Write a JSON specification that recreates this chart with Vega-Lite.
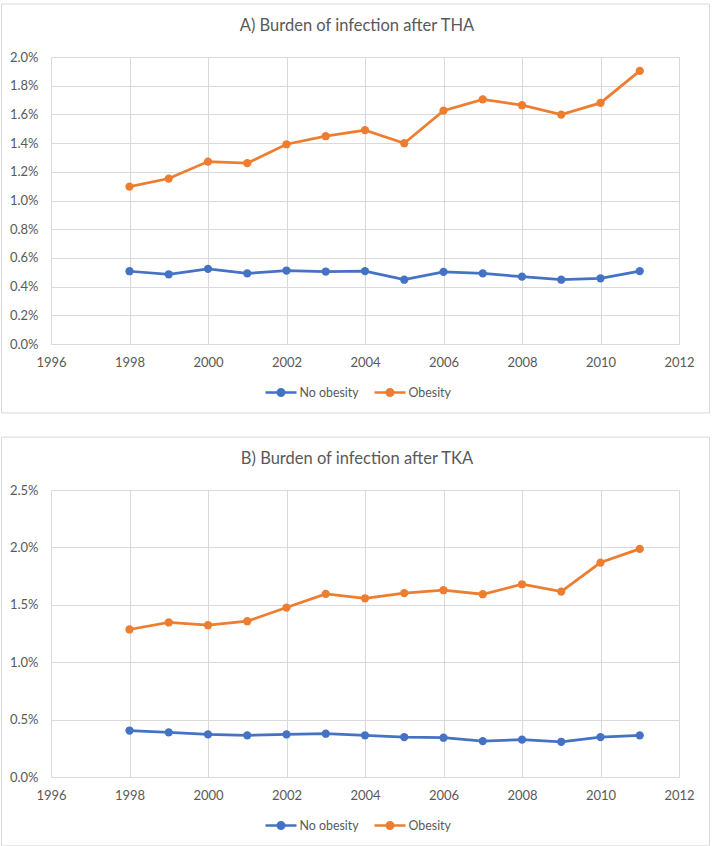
{
  "$schema": "https://vega.github.io/schema/vega-lite/v6.json",
  "padding": {"left": 1, "top": 3, "right": 0, "bottom": 0},
  "background": "white",
  "datasets": {
    "tha": [
      {"year": 1998, "group": "No obesity", "value": 0.00507},
      {"year": 1999, "group": "No obesity", "value": 0.00486},
      {"year": 2000, "group": "No obesity", "value": 0.00524},
      {"year": 2001, "group": "No obesity", "value": 0.00492},
      {"year": 2002, "group": "No obesity", "value": 0.00512},
      {"year": 2003, "group": "No obesity", "value": 0.00505},
      {"year": 2004, "group": "No obesity", "value": 0.00508},
      {"year": 2005, "group": "No obesity", "value": 0.00448},
      {"year": 2006, "group": "No obesity", "value": 0.00503},
      {"year": 2007, "group": "No obesity", "value": 0.00492},
      {"year": 2008, "group": "No obesity", "value": 0.00469},
      {"year": 2009, "group": "No obesity", "value": 0.00448},
      {"year": 2010, "group": "No obesity", "value": 0.00458},
      {"year": 2011, "group": "No obesity", "value": 0.00508},
      {"year": 1998, "group": "Obesity", "value": 0.01097},
      {"year": 1999, "group": "Obesity", "value": 0.01153},
      {"year": 2000, "group": "Obesity", "value": 0.01271},
      {"year": 2001, "group": "Obesity", "value": 0.01260},
      {"year": 2002, "group": "Obesity", "value": 0.01392},
      {"year": 2003, "group": "Obesity", "value": 0.01448},
      {"year": 2004, "group": "Obesity", "value": 0.01490},
      {"year": 2005, "group": "Obesity", "value": 0.01399},
      {"year": 2006, "group": "Obesity", "value": 0.01626},
      {"year": 2007, "group": "Obesity", "value": 0.01705},
      {"year": 2008, "group": "Obesity", "value": 0.01664},
      {"year": 2009, "group": "Obesity", "value": 0.01599},
      {"year": 2010, "group": "Obesity", "value": 0.01680},
      {"year": 2011, "group": "Obesity", "value": 0.01903}
    ],
    "tka": [
      {"year": 1998, "group": "No obesity", "value": 0.00405},
      {"year": 1999, "group": "No obesity", "value": 0.00389},
      {"year": 2000, "group": "No obesity", "value": 0.00371},
      {"year": 2001, "group": "No obesity", "value": 0.00363},
      {"year": 2002, "group": "No obesity", "value": 0.00371},
      {"year": 2003, "group": "No obesity", "value": 0.00377},
      {"year": 2004, "group": "No obesity", "value": 0.00363},
      {"year": 2005, "group": "No obesity", "value": 0.00348},
      {"year": 2006, "group": "No obesity", "value": 0.00342},
      {"year": 2007, "group": "No obesity", "value": 0.00313},
      {"year": 2008, "group": "No obesity", "value": 0.00325},
      {"year": 2009, "group": "No obesity", "value": 0.00307},
      {"year": 2010, "group": "No obesity", "value": 0.00348},
      {"year": 2011, "group": "No obesity", "value": 0.00363},
      {"year": 1998, "group": "Obesity", "value": 0.01285},
      {"year": 1999, "group": "Obesity", "value": 0.01346},
      {"year": 2000, "group": "Obesity", "value": 0.01322},
      {"year": 2001, "group": "Obesity", "value": 0.01357},
      {"year": 2002, "group": "Obesity", "value": 0.01476},
      {"year": 2003, "group": "Obesity", "value": 0.01595},
      {"year": 2004, "group": "Obesity", "value": 0.01557},
      {"year": 2005, "group": "Obesity", "value": 0.01601},
      {"year": 2006, "group": "Obesity", "value": 0.01627},
      {"year": 2007, "group": "Obesity", "value": 0.01592},
      {"year": 2008, "group": "Obesity", "value": 0.01679},
      {"year": 2009, "group": "Obesity", "value": 0.01615},
      {"year": 2010, "group": "Obesity", "value": 0.01868},
      {"year": 2011, "group": "Obesity", "value": 0.01987}
    ]
  },
  "vconcat": [
    {
      "width": 628,
      "height": 287,
      "title": {"text": "A) Burden of infection after THA", "dx": -8, "offset": -31},
      "layer": [
        {
          "data": {"name": "tha"},
          "mark": {"type": "point", "filled": true, "size": 68, "opacity": 1},
          "encoding": {
            "x": {"field": "year", "type": "quantitative", "scale": {"domain": [1996, 2012], "nice": false, "zero": false},
                  "axis": {"title": null, "values": [1996, 1998, 2000, 2002, 2004, 2006, 2008, 2010, 2012], "format": "d"}},
            "y": {"field": "value", "type": "quantitative", "scale": {"domain": [0, 0.02], "nice": false},
                  "axis": {"title": null, "values": [0, 0.002, 0.004, 0.006, 0.008, 0.01, 0.012, 0.014, 0.016, 0.018, 0.02], "format": ".1%"}},
            "color": {"field": "group", "type": "nominal", "scale": {"domain": ["No obesity", "Obesity"], "range": ["#4472C4", "#ED7D31"]},
                     "legend": {"title": null, "orient": "none", "direction": "horizontal", "legendX": 214.5, "legendY": 320}}
          }
        },
        {
          "data": {"name": "tha"},
          "mark": {"type": "line", "strokeWidth": 2.75},
          "encoding": {
            "x": {"field": "year", "type": "quantitative",
                  "axis": {"title": null, "values": [1996, 1998, 2000, 2002, 2004, 2006, 2008, 2010, 2012], "format": "d"}},
            "y": {"field": "value", "type": "quantitative",
                  "axis": {"title": null, "values": [0, 0.002, 0.004, 0.006, 0.008, 0.01, 0.012, 0.014, 0.016, 0.018, 0.02], "format": ".1%"}},
            "color": {"field": "group", "type": "nominal"}
          }
        },
        {
          "data": {"values": [{}]},
          "mark": {"type": "rect", "fill": null, "fillOpacity": 0, "stroke": "#D9D9D9", "strokeWidth": 1, "clip": false},
          "encoding": {
            "x": {"datum": 1994.739, "type": "quantitative",
                  "axis": {"title": null, "values": [1996, 1998, 2000, 2002, 2004, 2006, 2008, 2010, 2012], "format": "d"}},
            "x2": {"datum": 2012.777},
            "y": {"datum": 0.023693, "type": "quantitative",
                  "axis": {"title": null, "values": [0, 0.002, 0.004, 0.006, 0.008, 0.01, 0.012, 0.014, 0.016, 0.018, 0.02], "format": ".1%"}},
            "y2": {"datum": -0.004808}
          }
        }
      ]
    },
    {
      "width": 628,
      "height": 287,
      "title": {"text": "B) Burden of infection after TKA", "dx": -8, "offset": -31},
      "layer": [
        {
          "data": {"name": "tka"},
          "mark": {"type": "point", "filled": true, "size": 68, "opacity": 1},
          "encoding": {
            "x": {"field": "year", "type": "quantitative", "scale": {"domain": [1996, 2012], "nice": false, "zero": false},
                  "axis": {"title": null, "values": [1996, 1998, 2000, 2002, 2004, 2006, 2008, 2010, 2012], "format": "d"}},
            "y": {"field": "value", "type": "quantitative", "scale": {"domain": [0, 0.025], "nice": false},
                  "axis": {"title": null, "values": [0, 0.005, 0.01, 0.015, 0.02, 0.025], "format": ".1%"}},
            "color": {"field": "group", "type": "nominal", "scale": {"domain": ["No obesity", "Obesity"], "range": ["#4472C4", "#ED7D31"]},
                     "legend": {"title": null, "orient": "none", "direction": "horizontal", "legendX": 214.5, "legendY": 320}}
          }
        },
        {
          "data": {"name": "tka"},
          "mark": {"type": "line", "strokeWidth": 2.75},
          "encoding": {
            "x": {"field": "year", "type": "quantitative",
                  "axis": {"title": null, "values": [1996, 1998, 2000, 2002, 2004, 2006, 2008, 2010, 2012], "format": "d"}},
            "y": {"field": "value", "type": "quantitative",
                  "axis": {"title": null, "values": [0, 0.005, 0.01, 0.015, 0.02, 0.025], "format": ".1%"}},
            "color": {"field": "group", "type": "nominal"}
          }
        },
        {
          "data": {"values": [{}]},
          "mark": {"type": "rect", "fill": null, "fillOpacity": 0, "stroke": "#D9D9D9", "strokeWidth": 1, "clip": false},
          "encoding": {
            "x": {"datum": 1994.739, "type": "quantitative",
                  "axis": {"title": null, "values": [1996, 1998, 2000, 2002, 2004, 2006, 2008, 2010, 2012], "format": "d"}},
            "x2": {"datum": 2012.777},
            "y": {"datum": 0.029609, "type": "quantitative",
                  "axis": {"title": null, "values": [0, 0.005, 0.01, 0.015, 0.02, 0.025], "format": ".1%"}},
            "y2": {"datum": -0.006}
          }
        }
      ]
    }
  ],
  "spacing": 22,
  "resolve": {
    "scale": {"x": "independent", "y": "independent", "color": "independent"},
    "axis": {"x": "independent", "y": "independent"},
    "legend": {"color": "independent"}
  },
  "config": {
    "view": {"stroke": null},
    "font": "Lato",
    "title": {"font": "Lato", "fontSize": 16.5, "fontWeight": "normal", "color": "#595959", "anchor": "middle"},
    "axis": {
      "labelFont": "Lato", "labelFontSize": 13, "labelColor": "#595959",
      "grid": true, "gridColor": "#D9D9D9", "gridWidth": 1,
      "domain": false, "ticks": false,
      "labelFlush": false, "labelOverlap": false
    },
    "axisX": {"labelPadding": 12},
    "axisY": {"labelPadding": 13},
    "legend": {
      "labelFont": "Lato", "labelFontSize": 12.4, "labelColor": "#595959",
      "symbolType": "M-1,-0.08H1V0.08H-1Z M-0.29,0A0.29,0.29 0 1,1 0.29,0A0.29,0.29 0 1,1 -0.29,0Z",
      "symbolSize": 961, "symbolStrokeWidth": 0, "symbolOpacity": 1,
      "labelOffset": 3, "columnPadding": 15, "padding": 0
    }
  }
}
